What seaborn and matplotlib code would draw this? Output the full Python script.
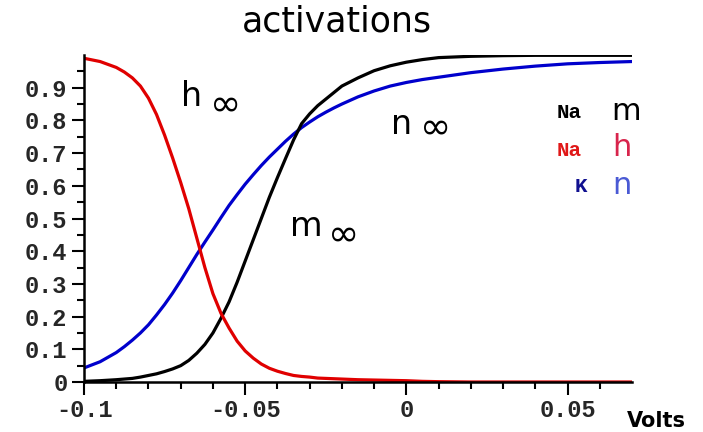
import numpy as np
import pandas as pd
import matplotlib
matplotlib.use("Agg")
import matplotlib.pyplot as plt
import seaborn as sns

volts = [-0.1, -0.095, -0.09, -0.0875, -0.085, -0.0825,
         -0.08, -0.0775, -0.075, -0.0725, -0.07, -0.0675, -0.065, -0.0625, -0.06,
         -0.0575, -0.055, -0.0525, -0.05, -0.0475, -0.045, -0.0425, -0.04, -0.0375,
         -0.035, -0.0325, -0.03, -0.0275, -0.025, -0.0225, -0.02,
         -0.015, -0.01, -0.005, 0.0, 0.005, 0.01, 0.02, 0.03, 0.04, 0.05, 0.06, 0.07]
h_inf = [0.990, 0.980, 0.962, 0.948, 0.930, 0.905,
         0.868, 0.818, 0.755, 0.685, 0.610, 0.530, 0.440, 0.350, 0.270,
         0.210, 0.165, 0.125, 0.095, 0.073, 0.055, 0.042, 0.033, 0.026,
         0.020, 0.017, 0.015, 0.012, 0.011, 0.010, 0.009,
         0.007, 0.006, 0.005, 0.004, 0.002, 0.001, 0.0, 0.0, 0.0, 0.0, 0.0, 0.0]
m_inf = [0.002, 0.004, 0.007, 0.009, 0.011, 0.015,
         0.020, 0.025, 0.032, 0.040, 0.050, 0.066, 0.088, 0.115, 0.150,
         0.195, 0.245, 0.305, 0.370, 0.435, 0.500, 0.565, 0.625, 0.683,
         0.740, 0.790, 0.820, 0.845, 0.865, 0.885, 0.905,
         0.930, 0.952, 0.967, 0.978, 0.986, 0.992, 0.996, 0.998, 0.999, 0.999, 0.999, 0.999]
n_inf = [0.043, 0.062, 0.090, 0.108, 0.128, 0.150,
         0.175, 0.205, 0.237, 0.272, 0.310, 0.350, 0.390, 0.428, 0.465,
         0.503, 0.540, 0.573, 0.605, 0.634, 0.662, 0.688, 0.712, 0.736,
         0.758, 0.778, 0.795, 0.811, 0.825, 0.838, 0.850,
         0.872, 0.890, 0.905, 0.916, 0.925, 0.932, 0.946, 0.957, 0.966, 0.973, 0.977, 0.980]

yticks = [0, 0.1, 0.2, 0.3, 0.4, 0.5, 0.6, 0.7, 0.8, 0.9]
yticklabels = ["0", "0.1", "0.2", "0.3", "0.4", "0.5", "0.6", "0.7", "0.8", "0.9"]
xticks = [-0.1, -0.05, 0, 0.05]
xticklabels = ["-0.1", "-0.05", "0", "0.05"]

sns.set_style("white")
plt.rcParams['font.family'] = ['DejaVu Sans']

df = pd.DataFrame({
    "V": volts * 3,
    "val": m_inf + h_inf + n_inf,
    "gate": ["m"] * len(volts) + ["h"] * len(volts) + ["n"] * len(volts),
})

fig = plt.figure(figsize=(7.03, 4.32), dpi=100)
ax = fig.add_axes([84 / 703, 1 - 382 / 432, (632 - 84) / 703, (382 - 55) / 432])

palette = {"m": "#000000", "h": "#e00000", "n": "#0000cc"}
sns.lineplot(data=df, x="V", y="val", hue="gate", palette=palette,
             hue_order=["n", "m", "h"], linewidth=2.3, legend=False, ax=ax)

ax.set_xlim(-0.1, 0.07)
ax.set_ylim(0, 1.0)
ax.set_xlabel("")
ax.set_ylabel("")

for s in ["top", "right"]:
    ax.spines[s].set_visible(False)
for s in ["left", "bottom"]:
    ax.spines[s].set_linewidth(1.8)
    ax.spines[s].set_color("black")

tickfont = dict(family="Liberation Mono", weight="bold", size=17)
ax.set_yticks(yticks)
ax.set_yticklabels(yticklabels, fontdict=tickfont)
ax.set_xticks(xticks)
ax.set_xticklabels(xticklabels, fontdict=tickfont)
ax.set_yticks(np.arange(0.05, 1.0, 0.1), minor=True)
ax.set_xticks([-0.09, -0.08, -0.07, -0.06, -0.04, -0.03, -0.02, -0.01,
               0.01, 0.02, 0.03, 0.04, 0.06], minor=True)
ax.tick_params(which="major", direction="out", length=9, width=1.5, color="black", pad=3)
ax.tick_params(which="minor", direction="out", length=5, width=1.5, color="black")
ax.tick_params(axis="y", which="both", left=True)
ax.tick_params(axis="x", which="both", bottom=True)

fig.text(337 / 703, 1 - 22 / 432, "activations", ha="center", va="center",
         fontsize=25, color="black")

def lab(x, y, s, size, color="black", **kw):
    fig.text(x / 703, 1 - y / 432, s, ha="left", va="center", fontsize=size, color=color, **kw)

lab(181, 96, "h", 24)
lab(210, 106, "∞", 27)
lab(391, 125, "n", 24)
lab(420, 129, "∞", 27)
lab(290, 226, "m", 24)
lab(328, 236, "∞", 27)

mono = dict(family="Liberation Mono", weight="bold")
lab(557, 113, "Na", 15, "black", **mono)
lab(611, 112, "m", 22)
lab(557, 150, "Na", 15, "#e01818", **mono)
lab(612, 147, "h", 22, "#d8244c")
lab(575, 187, "K", 15, "#101090", **mono)
lab(612, 186, "n", 22, "#4a5ad4")

lab(627, 421, "Volts", 15, "black", weight="bold")

fig.savefig("out.png", dpi=100, facecolor="white")
